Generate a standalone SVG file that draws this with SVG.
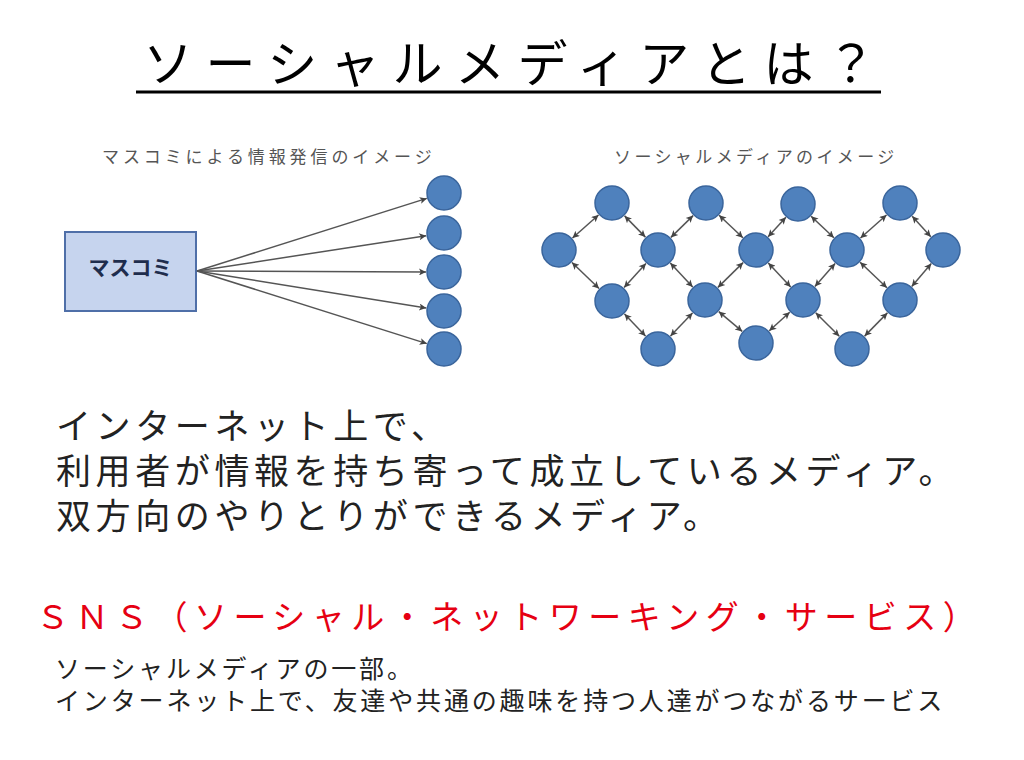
<svg xmlns="http://www.w3.org/2000/svg" width="1024" height="760" viewBox="0 0 1024 760">
  <style>
    .jp { font-family: "Noto Sans CJK JP", "Noto Sans", sans-serif; }
    .title { font-size: 50px; letter-spacing: 12.6px; fill: #000; }
    .cap { font-size: 17px; fill: #555; }
    .body { font-size: 35px; letter-spacing: 4.6px; fill: #222; }
    .red { font-size: 33px; letter-spacing: 6.5px; fill: #e60012; }
    .sub { font-size: 25px; letter-spacing: 2.85px; fill: #222; }
    .node { fill: #4f81bd; stroke: #3a659c; stroke-width: 1.5; }
    .edge { stroke: #555; stroke-width: 1.5; fill: none; }
  </style>
  <defs>
    <marker id="ah" viewBox="0 0 10 10" refX="10" refY="5" markerWidth="9" markerHeight="7" markerUnits="userSpaceOnUse" orient="auto-start-reverse">
      <path d="M0,0 L10,5 L0,10 L2.5,5 Z" fill="#444"/>
    </marker>
  </defs>
  <rect width="1024" height="760" fill="#fff"/>

  <g id="title">
    <text class="jp title" x="143" y="82">ソーシャルメディアとは？</text>
    <line x1="136" y1="92" x2="881" y2="92" stroke="#000" stroke-width="3"/>
  </g>

  <g id="left-caption"><text class="jp cap" x="102" y="163" letter-spacing="3.9">マスコミによる情報発信のイメージ</text></g>
  <g id="right-caption"><text class="jp cap" x="614" y="163" letter-spacing="3.4">ソーシャルメディアのイメージ</text></g>

  <g id="masscomi">
    <rect x="65" y="232" width="131" height="79" fill="#c6d4ee" stroke="#4f6fa8" stroke-width="2"/>
    <text class="jp" x="130.5" y="275" font-size="21" font-weight="bold" fill="#1f2d4d" text-anchor="middle">マスコミ</text>
  </g>

  <g id="connectors">
    <line class="edge" x1="197" y1="271" x2="426.8" y2="198.4" marker-end="url(#ah)"/>
    <line class="edge" x1="197" y1="271" x2="426.2" y2="235.7" marker-end="url(#ah)"/>
    <line class="edge" x1="197" y1="271" x2="426" y2="272" marker-end="url(#ah)"/>
    <line class="edge" x1="197" y1="271" x2="426.2" y2="308.1" marker-end="url(#ah)"/>
    <line class="edge" x1="197" y1="271" x2="426.8" y2="343.6" marker-end="url(#ah)"/>

    <g marker-start="url(#ah)" marker-end="url(#ah)">
      <line class="edge" x1="572.5" y1="238" x2="598.5" y2="215"/>
      <line class="edge" x1="624.6" y1="215.9" x2="645.4" y2="237.1"/>
      <line class="edge" x1="572" y1="262.5" x2="599" y2="288.5"/>
      <line class="edge" x1="624.1" y1="287.6" x2="645.9" y2="263.4"/>
      <line class="edge" x1="624.5" y1="314" x2="645.5" y2="336"/>
      <line class="edge" x1="670.5" y1="336" x2="692.5" y2="313"/>
      <line class="edge" x1="670.9" y1="237.4" x2="693.1" y2="215.6"/>
      <line class="edge" x1="670.3" y1="263.1" x2="692.7" y2="286.9"/>
      <line class="edge" x1="719.1" y1="215.3" x2="742.9" y2="237.7"/>
      <line class="edge" x1="717.9" y1="287.4" x2="743.1" y2="262.6"/>
      <line class="edge" x1="718.8" y1="311.6" x2="742.2" y2="331.4"/>
      <line class="edge" x1="769.3" y1="330.8" x2="789.7" y2="312.2"/>
      <line class="edge" x1="768.3" y1="263.1" x2="790.7" y2="286.9"/>
      <line class="edge" x1="768.1" y1="236.7" x2="785.9" y2="217.3"/>
      <line class="edge" x1="811.1" y1="216.3" x2="833.9" y2="237.7"/>
      <line class="edge" x1="814.9" y1="286.5" x2="835.1" y2="263.5"/>
      <line class="edge" x1="815.7" y1="312.7" x2="839.3" y2="336.3"/>
      <line class="edge" x1="864.6" y1="336.1" x2="887.4" y2="312.9"/>
      <line class="edge" x1="860.1" y1="262.3" x2="886.9" y2="287.7"/>
      <line class="edge" x1="860.5" y1="238" x2="886.5" y2="215"/>
      <line class="edge" x1="912.2" y1="216.3" x2="930.8" y2="236.7"/>
      <line class="edge" x1="911.7" y1="286.4" x2="931.3" y2="263.6"/>
    </g>
  </g>

  <g id="receivers">
    <circle class="node" cx="444" cy="193" r="17"/>
    <circle class="node" cx="444" cy="233" r="17"/>
    <circle class="node" cx="444" cy="272" r="17"/>
    <circle class="node" cx="444" cy="311" r="17"/>
    <circle class="node" cx="444" cy="349" r="17"/>
  </g>

  <g id="social-nodes">
    <circle class="node" cx="612" cy="203" r="17"/>
    <circle class="node" cx="706" cy="203" r="17"/>
    <circle class="node" cx="798" cy="204" r="17"/>
    <circle class="node" cx="900" cy="203" r="17"/>
    <circle class="node" cx="559" cy="250" r="17"/>
    <circle class="node" cx="658" cy="250" r="17"/>
    <circle class="node" cx="756" cy="250" r="17"/>
    <circle class="node" cx="847" cy="250" r="17"/>
    <circle class="node" cx="943" cy="250" r="17"/>
    <circle class="node" cx="612" cy="301" r="17"/>
    <circle class="node" cx="705" cy="300" r="17"/>
    <circle class="node" cx="803" cy="300" r="17"/>
    <circle class="node" cx="900" cy="300" r="17"/>
    <circle class="node" cx="658" cy="349" r="17"/>
    <circle class="node" cx="756" cy="343" r="17"/>
    <circle class="node" cx="852" cy="349" r="17"/>
  </g>

  <g id="description">
    <text class="jp body" x="56" y="439">インターネット上で、</text>
    <text class="jp body" x="56" y="484">利用者が情報を持ち寄って成立しているメディア。</text>
    <text class="jp body" x="56" y="529">双方向のやりとりができるメディア。</text>
  </g>

  <g id="sns">
    <text class="jp red" x="36" y="629">ＳＮＳ（ソーシャル・ネットワーキング・サービス）</text>
    <text class="jp sub" x="55" y="678">ソーシャルメディアの一部。</text>
    <text class="jp sub" x="55" y="710">インターネット上で、友達や共通の趣味を持つ人達がつながるサービス</text>
  </g>
</svg>
